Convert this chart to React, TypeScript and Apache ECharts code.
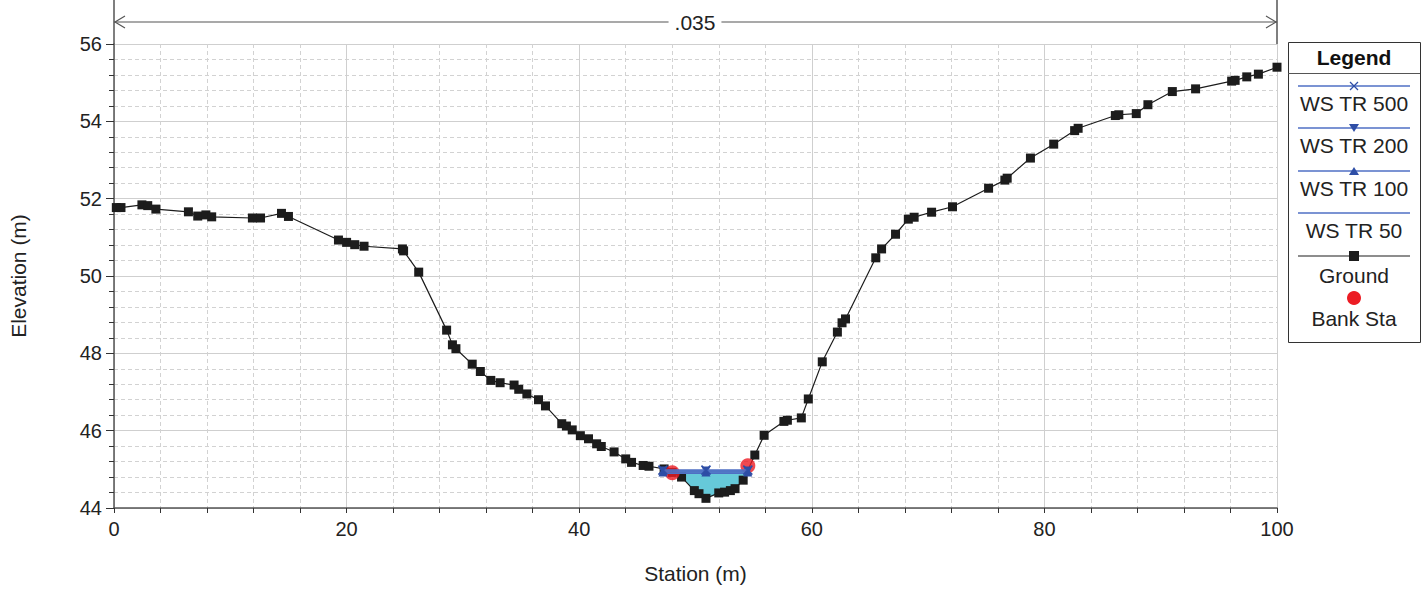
import React, { useEffect, useRef } from "react";
import * as echarts from "echarts";

// ---------- DATA ----------
const groundStation = [
  0.2, 0.6, 2.4, 2.9, 3.6, 6.4, 7.2, 7.9, 8.4, 11.9, 12.6, 14.4, 15.0, 19.3, 20.0, 20.7, 21.5,
  24.8, 24.9, 26.2, 28.6, 29.1, 29.4, 30.8, 31.5, 32.4, 33.2, 34.4, 34.8, 35.5, 36.5, 37.1,
  38.5, 38.9, 39.4, 40.1, 40.8, 41.5, 41.9, 43.0, 44.0, 44.5, 45.5, 46.0, 47.3, 48.0, 48.8,
  49.9, 50.3, 50.9, 52.0, 52.5, 53.0, 53.4, 54.1, 55.1, 55.9, 57.6, 57.9, 59.1, 59.7, 60.9,
  62.2, 62.6, 62.9, 65.5, 66.0, 67.2, 68.3, 68.8, 70.3, 72.1, 75.2, 76.6, 76.8, 78.8, 80.8,
  82.6, 82.9, 86.1, 86.4, 87.9, 88.9, 91.0, 93.0, 96.1, 96.4, 97.4, 98.4, 100.0,
];
const groundElevation = [
  51.77, 51.77, 51.84, 51.82, 51.73, 51.66, 51.55, 51.58, 51.53, 51.5, 51.5, 51.62, 51.54, 50.93, 50.87, 50.81, 50.77,
  50.7, 50.65, 50.1, 48.6, 48.22, 48.12, 47.72, 47.53, 47.3, 47.24, 47.18, 47.07, 46.95, 46.8, 46.64,
  46.18, 46.12, 46.02, 45.87, 45.79, 45.66, 45.59, 45.45, 45.27, 45.18, 45.1, 45.08, 45.01, 44.92, 44.8,
  44.45, 44.37, 44.25, 44.39, 44.41, 44.45, 44.5, 44.72, 45.37, 45.88, 46.24, 46.27, 46.33, 46.82, 47.78,
  48.55, 48.79, 48.89, 50.47, 50.7, 51.08, 51.47, 51.52, 51.65, 51.79, 52.27, 52.48, 52.53, 53.05, 53.41,
  53.76, 53.82, 54.15, 54.17, 54.2, 54.43, 54.77, 54.84, 55.04, 55.06, 55.15, 55.22, 55.4,
];

const bankStation = [48.0, 54.5];
const bankElevation = [44.91, 45.09];

const wsStation = [47.2, 50.9, 54.5];
const wsTR500 = [44.98, 44.98, 44.98];
const wsTR200 = [44.96, 44.96, 44.96];
const wsTR100 = [44.93, 44.93, 44.93];
const wsTR50 = [44.9, 44.9, 44.9];

const xTicks = { min: 0, max: 100, interval: 20 };
const yTicks = { min: 44, max: 56, interval: 2 };
const nValueLabel = ".035";
const legendNames = ["WS TR 500", "WS TR 200", "WS TR 100", "WS TR 50", "Ground", "Bank Sta"];

// ---------- STYLES ----------
const FONT = 'Arial, "Liberation Sans", Helvetica, sans-serif';
const WS_LINE = "#4f6fc4";
const WS_MARK = "#2e4ea6";
const WATER = "#66c9d9";
const GROUND = "#1c1c1c";
const BANK = "#ec1c24";
const AXIS = "#555555";
const TXT = 21;

const GRID = { left: 114, right: 151, top: 44, bottom: 84 };
const W = 1428;
const H = 592;

const pairs = (xs: number[], ys: number[]) => xs.map((x, i) => [x, ys[i]]);

// water polygon (ground below the highest water surface, between the WS ends)
function waterPolygon(): number[][] {
  const level = wsTR500[0];
  const lo = wsStation[0] - 1;
  const hi = wsStation[wsStation.length - 1] + 1;
  const pts: number[][] = [];
  for (let i = 0; i < groundStation.length; i++) {
    const x0 = groundStation[i];
    const y0 = groundElevation[i];
    if (x0 < lo || x0 > hi) continue;
    if (y0 <= level) pts.push([x0, y0]);
    if (i + 1 < groundStation.length) {
      const x1 = groundStation[i + 1];
      const y1 = groundElevation[i + 1];
      if ((y0 - level) * (y1 - level) < 0) {
        const t = (level - y0) / (y1 - y0);
        pts.push([x0 + t * (x1 - x0), level]);
      }
    }
  }
  return pts;
}

function legendGraphic() {
  const bx = 1288, by = 42, bw = 132, bh = 300;
  const cx = bx + bw / 2;
  const lx0 = bx + 10, lx1 = bx + bw - 10;
  const els: any[] = [
    { type: "rect", shape: { x: bx + 0.5, y: by + 0.5, width: bw, height: bh }, style: { fill: "#fff", stroke: "#333", lineWidth: 1 } },
    { type: "line", shape: { x1: bx, y1: by + 31.5, x2: bx + bw, y2: by + 31.5 }, style: { stroke: "#555", lineWidth: 1 } },
    { type: "text", x: cx, y: by + 15, style: { text: "Legend", font: `bold ${TXT}px ${FONT}`, fill: "#111", align: "center", verticalAlign: "middle" } },
  ];
  const lineYs = [86, 128, 171, 213];
  const textYs = [103, 145, 188, 230];
  lineYs.forEach((ly, i) => {
    els.push({ type: "line", shape: { x1: lx0, y1: ly, x2: lx1, y2: ly }, style: { stroke: WS_LINE, lineWidth: 1.5 } });
    els.push({ type: "text", x: cx, y: textYs[i], style: { text: legendNames[i], font: `${TXT}px ${FONT}`, fill: "#222", align: "center", verticalAlign: "middle" } });
  });
  // markers
  els.push({ type: "line", shape: { x1: cx - 4, y1: 82, x2: cx + 4, y2: 90 }, style: { stroke: WS_MARK, lineWidth: 1.3 } });
  els.push({ type: "line", shape: { x1: cx - 4, y1: 90, x2: cx + 4, y2: 82 }, style: { stroke: WS_MARK, lineWidth: 1.3 } });
  els.push({ type: "polygon", shape: { points: [[cx - 5, 124], [cx + 5, 124], [cx, 132]] }, style: { fill: WS_MARK } });
  els.push({ type: "polygon", shape: { points: [[cx - 5, 175], [cx + 5, 175], [cx, 167]] }, style: { fill: WS_MARK } });
  // ground
  els.push({ type: "line", shape: { x1: lx0, y1: 256, x2: lx1, y2: 256 }, style: { stroke: GROUND, lineWidth: 1.2 } });
  els.push({ type: "rect", shape: { x: cx - 5, y: 251, width: 10, height: 10 }, style: { fill: GROUND } });
  els.push({ type: "text", x: cx, y: 275, style: { text: legendNames[4], font: `${TXT}px ${FONT}`, fill: "#222", align: "center", verticalAlign: "middle" } });
  // bank
  els.push({ type: "circle", shape: { cx, cy: 298, r: 7 }, style: { fill: BANK } });
  els.push({ type: "text", x: cx, y: 318, style: { text: legendNames[5], font: `${TXT}px ${FONT}`, fill: "#222", align: "center", verticalAlign: "middle" } });
  return els;
}

function annotationGraphic() {
  const x0 = GRID.left;
  const x1 = W - GRID.right;
  const ay = 22;
  const mid = (x0 + x1) / 2 - 0.5;
  return [
    { type: "line", shape: { x1: x0, y1: 0, x2: x0, y2: GRID.top }, style: { stroke: AXIS, lineWidth: 1.5 } },
    { type: "line", shape: { x1: x1, y1: 0, x2: x1, y2: GRID.top }, style: { stroke: AXIS, lineWidth: 1.5 } },
    { type: "line", shape: { x1: x0, y1: ay, x2: x1, y2: ay }, style: { stroke: AXIS, lineWidth: 1.2 } },
    { type: "polyline", shape: { points: [[x0 + 11, ay - 6], [x0 + 1, ay], [x0 + 11, ay + 6]] }, style: { stroke: AXIS, lineWidth: 1.2, fill: null } },
    { type: "polyline", shape: { points: [[x1 - 11, ay - 6], [x1 - 1, ay], [x1 - 11, ay + 6]] }, style: { stroke: AXIS, lineWidth: 1.2, fill: null } },
    { type: "text", x: mid, y: ay, style: { text: nValueLabel, font: `${TXT}px ${FONT}`, fill: "#222", align: "center", verticalAlign: "middle", backgroundColor: "#fff", padding: [0, 6] } },
  ];
}

function wsSeries(name: string, ys: number[], symbol: string, size: number, z: number) {
  return {
    name,
    type: "line",
    data: pairs(wsStation, ys),
    symbol,
    symbolSize: size,
    showSymbol: symbol !== "none",
    lineStyle: { color: WS_LINE, width: 1.5 },
    itemStyle: { color: WS_MARK, borderColor: WS_MARK, borderWidth: symbol.startsWith("path://M0,0L10,10") ? 1.6 : 0 },
    z,
    silent: true,
  };
}

export default function App() {
  const ref = useRef<HTMLDivElement>(null);
  useEffect(() => {
    if (!ref.current) return;
    const chart = echarts.init(ref.current, null, { renderer: "svg" });
    const poly = waterPolygon();
    const option: any = {
      animation: false,
      backgroundColor: "#fff",
      textStyle: { fontFamily: FONT },
      grid: { ...GRID, containLabel: false },
      xAxis: {
        type: "value",
        min: xTicks.min,
        max: xTicks.max,
        interval: xTicks.interval,
        name: "Station (m)",
        nameLocation: "middle",
        nameGap: 55,
        nameTextStyle: { fontSize: TXT, color: "#222", fontFamily: FONT },
        axisLine: { show: true, onZero: false, lineStyle: { color: AXIS, width: 1.5 } },
        axisTick: { show: true, inside: false, length: 5, lineStyle: { color: "#333" } },
        minorTick: { show: true, splitNumber: 5, length: 5, lineStyle: { color: "#333" } },
        splitLine: { show: true, lineStyle: { color: "#cfcfcf", width: 1 } },
        minorSplitLine: { show: true, lineStyle: { color: "#d2d2d2", type: [4, 3], width: 1 } },
        axisLabel: { fontSize: 20, color: "#222", margin: 11, fontFamily: FONT },
      },
      yAxis: {
        type: "value",
        min: yTicks.min,
        max: yTicks.max,
        interval: yTicks.interval,
        name: "Elevation (m)",
        nameLocation: "middle",
        nameGap: 85,
        nameTextStyle: { fontSize: TXT, color: "#222", fontFamily: FONT },
        axisLine: { show: true, onZero: false, lineStyle: { color: AXIS, width: 1.5 } },
        axisTick: { show: true, inside: false, length: 8, lineStyle: { color: "#333" } },
        minorTick: { show: true, splitNumber: 5, length: 5, lineStyle: { color: "#333" } },
        splitLine: { show: true, lineStyle: { color: "#cfcfcf", width: 1 } },
        minorSplitLine: { show: true, lineStyle: { color: "#d2d2d2", type: [4, 3], width: 1 } },
        axisLabel: { fontSize: 20, color: "#222", margin: 12, fontFamily: FONT },
      },
      series: [
        {
          name: "water",
          type: "custom",
          data: [[wsStation[1], wsTR500[1]]],
          encode: { x: 0, y: 1 },
          z: 1,
          silent: true,
          renderItem: (_params: any, api: any) => ({
            type: "polygon",
            shape: { points: poly.map((p) => api.coord(p)) },
            style: { fill: WATER, stroke: null },
          }),
        },
        {
          name: "Ground",
          type: "line",
          data: pairs(groundStation, groundElevation),
          symbol: "rect",
          symbolSize: 9,
          showAllSymbol: true,
          lineStyle: { color: GROUND, width: 1.2 },
          itemStyle: { color: GROUND },
          z: 3,
          silent: true,
        },
        {
          name: "Bank Sta",
          type: "scatter",
          data: pairs(bankStation, bankElevation),
          symbol: "circle",
          symbolSize: 15,
          itemStyle: { color: BANK },
          z: 4,
          silent: true,
        },
        wsSeries("WS TR 50", wsTR50, "none", 0, 5),
        wsSeries("WS TR 100", wsTR100, "triangle", 9, 6),
        wsSeries("WS TR 200", wsTR200, "path://M0,0L10,0L5,9Z", 9, 7),
        wsSeries("WS TR 500", wsTR500, "path://M0,0L10,10M10,0L0,10", 9, 8),
      ],
      graphic: [...annotationGraphic(), ...legendGraphic()],
    };
    chart.setOption(option);
    return () => chart.dispose();
  }, []);
  return <div ref={ref} style={{ position: "fixed", left: 0, top: 0, width: W, height: H, background: "#fff" }} />;
}
